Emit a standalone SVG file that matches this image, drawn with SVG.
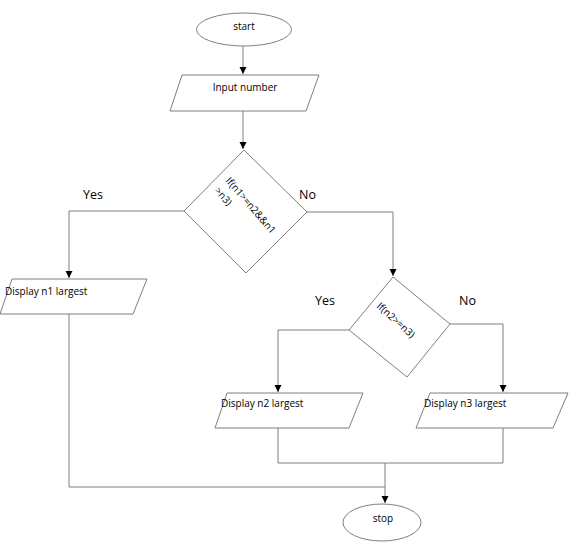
<svg xmlns="http://www.w3.org/2000/svg" width="575" height="553" viewBox="0 0 575 553">
<defs>
<marker id="ah" markerWidth="8" markerHeight="8" refX="7" refY="4" orient="auto" markerUnits="userSpaceOnUse">
<path d="M0,0.5 L7,4 L0,7.5 Z" fill="#000"/>
</marker>
<style>
.shape{fill:#fff;stroke:#7f7f7f;stroke-width:1}
.line{fill:none;stroke:#7f7f7f;stroke-width:1}
.t{font-family:"Open Sans","DejaVu Sans",sans-serif;font-size:10px;fill:#000}
.lbl{font-family:"Open Sans","DejaVu Sans",sans-serif;font-size:12.5px;fill:#000}
</style>
</defs>
<rect width="575" height="553" fill="#fff"/>
<g id="connectors">
<line class="line" x1="243" y1="46" x2="243" y2="74" marker-end="url(#ah)"/>
<line class="line" x1="243" y1="111" x2="243" y2="149" marker-end="url(#ah)"/>
<polyline class="line" points="184,211 69,211 69,278" marker-end="url(#ah)"/>
<polyline class="line" points="307,212 393,212 393,276" marker-end="url(#ah)"/>
<polyline class="line" points="349,330 278,330 278,392" marker-end="url(#ah)"/>
<polyline class="line" points="450,324 503,324 503,392" marker-end="url(#ah)"/>
<polyline class="line" points="278,428 278,463 503,463 503,428"/>
<polyline class="line" points="69,314 69,487 385,487"/>
<line class="line" x1="385" y1="463" x2="385" y2="503" marker-end="url(#ah)"/>
<text class="lbl" x="83" y="199">Yes</text>
<text class="lbl" x="299" y="199">No</text>
<text class="lbl" x="315" y="305">Yes</text>
<text class="lbl" x="459" y="305">No</text>
</g>
<g id="start">
<ellipse class="shape" cx="244" cy="29.5" rx="47.5" ry="16.5"/>
<text class="t" x="244" y="30" text-anchor="middle" font-size="12">start</text>
</g>
<g id="input">
<polygon class="shape" points="182,75 319,75 306,111 170,111"/>
<text class="t" x="245" y="91" text-anchor="middle">Input number</text>
</g>
<g id="decision1">
<polygon class="shape" points="244,150 307,212 246,273 184,211"/>
<text class="t" transform="translate(225,181) rotate(49)" font-size="9">If(n1&gt;=n2&amp;&amp;n1</text>
<text class="t" transform="translate(214,191) rotate(49)" font-size="9">&gt;n3)</text>
</g>
<g id="display1">
<polygon class="shape" points="12,279 147,279 133,314 0,314"/>
<text class="t" x="5" y="295">Display n1 largest</text>
</g>
<g id="decision2">
<polygon class="shape" points="393,277 450,324 407,377 349,330"/>
<text class="t" transform="translate(376,307) rotate(42)" font-size="9.5">If(n2&gt;=n3)</text>
</g>
<g id="display2">
<polygon class="shape" points="227,393 363,393 349,428 215,428"/>
<text class="t" x="221" y="407">Display n2 largest</text>
</g>
<g id="display3">
<polygon class="shape" points="430,393 568,393 553,428 416,428"/>
<text class="t" x="424" y="407">Display n3 largest</text>
</g>
<g id="stop">
<ellipse class="shape" cx="382" cy="522.5" rx="39" ry="18.5"/>
<text class="t" x="383" y="522" text-anchor="middle">stop</text>
</g>
</svg>
